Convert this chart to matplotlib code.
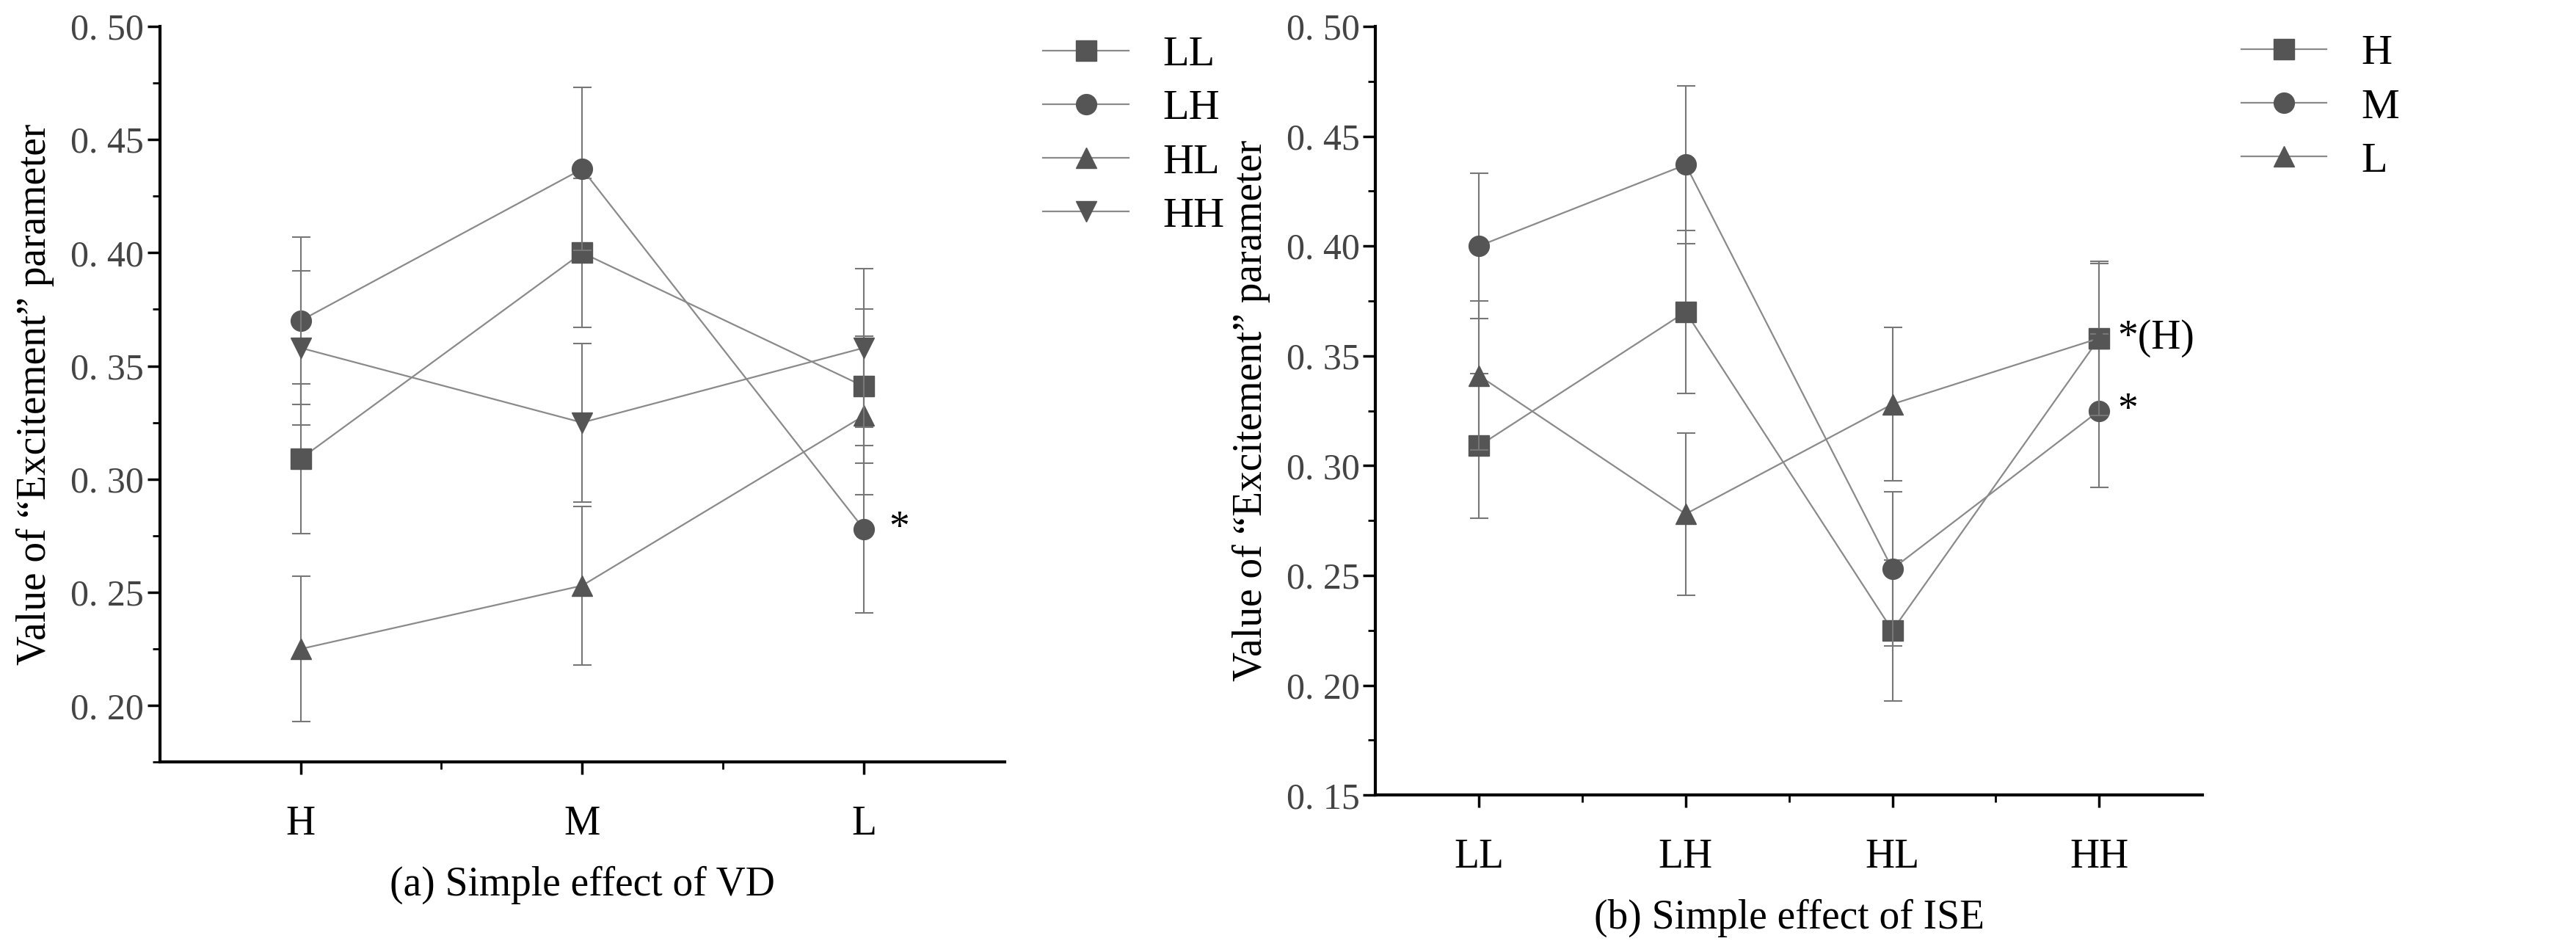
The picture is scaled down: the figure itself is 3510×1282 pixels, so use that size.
import matplotlib
matplotlib.use("Agg")
import matplotlib.pyplot as plt
import numpy as np
from matplotlib.ticker import MultipleLocator

plt.rcParams['font.family'] = ['Liberation Serif', 'DejaVu Serif']

vd_cats = ["H", "M", "L"]
ise_cats = ["LL", "LH", "HL", "HH"]
# values[ise][vd]
val_LL = [0.309, 0.400, 0.341]
val_LH = [0.370, 0.437, 0.278]
val_HL = [0.225, 0.253, 0.328]
val_HH = [0.358, 0.325, 0.358]
err_LL = [0.033, 0.033, 0.034]
err_LH = [0.037, 0.036, 0.037]
err_HL = [0.032, 0.035, 0.035]
err_HH = [0.034, 0.035, 0.035]

ise_vals = [val_LL, val_LH, val_HL, val_HH]
ise_errs = [err_LL, err_LH, err_HL, err_HH]
markers_a = ["s", "o", "^", "v"]
markers_b = ["s", "o", "^"]

mcol = "#555555"
lcol = "#8a8a8a"
ecol = "#777777"
fs = 36

fig = plt.figure(figsize=(35.1, 12.82), dpi=100)
axA = fig.add_axes([0.062, 0.19, 0.328, 0.782])
axB = fig.add_axes([0.534, 0.155, 0.321, 0.817])

def style(ax, ylim, cats, xlabel):
    for s in ["top", "right"]:
        ax.spines[s].set_visible(False)
    for s in ["left", "bottom"]:
        ax.spines[s].set_linewidth(3)
    ax.set_ylim(*ylim)
    ax.set_xlim(-0.5, len(cats) - 0.5)
    ax.set_xticks(range(len(cats)))
    ax.set_xticklabels(cats, fontsize=fs + 4)
    ax.set_xticks(np.arange(0.5, len(cats) - 0.5, 1.0), minor=True)
    ax.yaxis.set_major_locator(MultipleLocator(0.05))
    ax.yaxis.set_minor_locator(MultipleLocator(0.025))
    ax.yaxis.set_major_formatter(matplotlib.ticker.FuncFormatter(lambda v, p: f"{v:.2f}".replace(".", ". ")))
    ax.tick_params(axis="both", which="major", length=12, width=2.5, labelsize=fs, colors="black")
    ax.tick_params(axis="y", which="major", labelcolor="#444444")
    ax.tick_params(axis="both", which="minor", length=7, width=2)
    ax.tick_params(axis="x", which="major", pad=30, labelsize=fs + 4)
    ax.set_ylabel("Value of \u201cExcitement\u201d parameter", fontsize=fs + 4, labelpad=16)
    ax.set_xlabel(xlabel, fontsize=fs + 4, labelpad=22)

xa = np.arange(len(vd_cats))
names_a = ["LL", "LH", "HL", "HH"]
for i, name in enumerate(names_a):
    axA.errorbar(xa, ise_vals[i], yerr=ise_errs[i], fmt="none", ecolor=ecol, elinewidth=1.5, capsize=9, capthick=1.5)
    axA.plot(xa, ise_vals[i], color=lcol, lw=1.6, marker=markers_a[i], ms=20, mfc=mcol, mec=mcol, label=name)
axA.text(xa[2] + 0.09, val_LH[2], "*", fontsize=fs + 4, va="center")
style(axA, (0.175, 0.50), vd_cats, "(a) Simple effect of VD")
axA.legend(loc="upper left", bbox_to_anchor=(1.0, 1.04), frameon=False, fontsize=fs + 6, handlelength=2.0, labelspacing=0.35)

xb = np.arange(len(ise_cats))
for j, name in enumerate(vd_cats):
    v = [ise_vals[i][j] for i in range(4)]
    e = [ise_errs[i][j] for i in range(4)]
    axB.errorbar(xb, v, yerr=e, fmt="none", ecolor=ecol, elinewidth=1.5, capsize=9, capthick=1.5)
    axB.plot(xb, v, color=lcol, lw=1.6, marker=markers_b[j], ms=20, mfc=mcol, mec=mcol, label=name)
axB.text(xb[3] + 0.09, val_HH[0], "*(H)", fontsize=fs + 4, va="center")
axB.text(xb[3] + 0.09, val_HH[1], "*", fontsize=fs + 4, va="center")
style(axB, (0.15, 0.50), ise_cats, "(b) Simple effect of ISE")
axB.legend(loc="upper left", bbox_to_anchor=(1.0, 1.04), frameon=False, fontsize=fs + 6, handlelength=2.0, labelspacing=0.35)

fig.savefig("out.png", dpi=100, facecolor="white")
